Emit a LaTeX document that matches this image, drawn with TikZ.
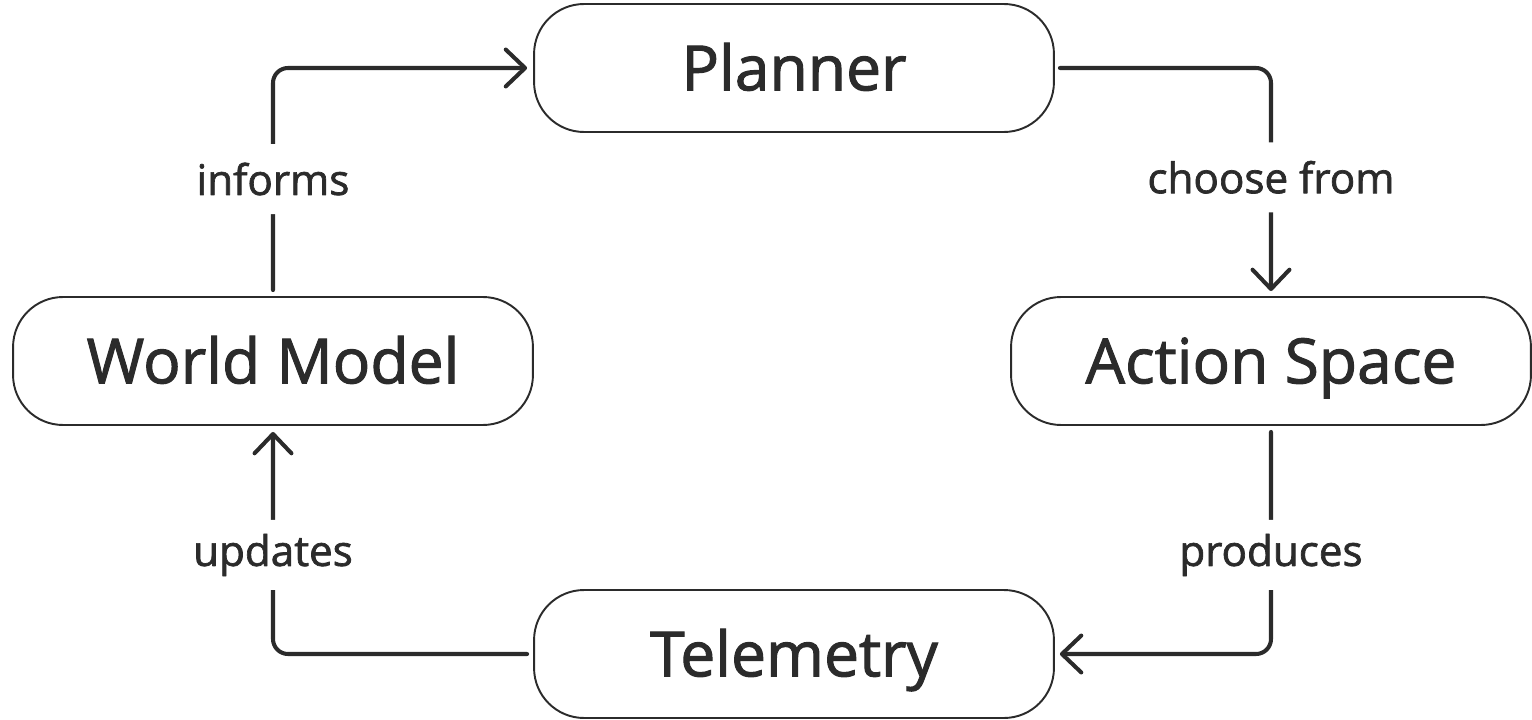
\documentclass[tikz,border=0pt]{standalone}
\usepackage{fontspec}
\setmainfont{Open Sans}
\newfontfamily\heavier{Open Sans}[RawFeature={embolden=1.6}]
\usetikzlibrary{arrows.meta}
\definecolor{ink}{HTML}{2B2B2B}
\tikzset{
  stage/.style={draw=ink, line width=1.1pt, rounded corners=1cm,
    minimum width=10.4cm, minimum height=2.56cm, text=ink,
    text height=25.4pt, text depth=0pt,
    font=\heavier\fontsize{35.5}{42}\selectfont},
  conn/.style={draw=ink, line width=2.3pt, line cap=round, line join=round,
    rounded corners=0.3cm,
    -{Straight Barb[length=11pt, width=21pt, line cap=round, line join=round]}},
  tag/.style={fill=white, text=ink, inner xsep=4pt, minimum height=1.4cm,
    font=\heavier\fontsize{24}{28}\selectfont}
}
\begin{document}
\begin{tikzpicture}[x=0.02cm, y=-0.02cm]
  \useasboundingbox (0,0) rectangle (1532,720);

  \node[stage] (planner) at (794,68)  {Planner};
  \node[stage] (world)   at (273,361) {World Model};
  \node[stage] (action)  at (1271,361) {Action Space};
  \node[stage] (tele)    at (794,654) {Telemetry};

  \draw[conn] ([yshift=0.12cm]world.north) |- ([xshift=-0.12cm]planner.west)
    node[tag, pos=0.25] {informs};
  \draw[conn] ([xshift=0.1cm]planner.east) -| ([yshift=0.1cm]action.north)
    node[tag, pos=0.745] {choose from};
  \draw[conn] ([yshift=-0.12cm]action.south) |- ([xshift=0.1cm]tele.east)
    node[tag, pos=0.277] {produces};
  \draw[conn] ([xshift=-0.12cm]tele.west) -| ([yshift=-0.12cm]world.south)
    node[tag, pos=0.723] {updates};
\end{tikzpicture}
\end{document}
